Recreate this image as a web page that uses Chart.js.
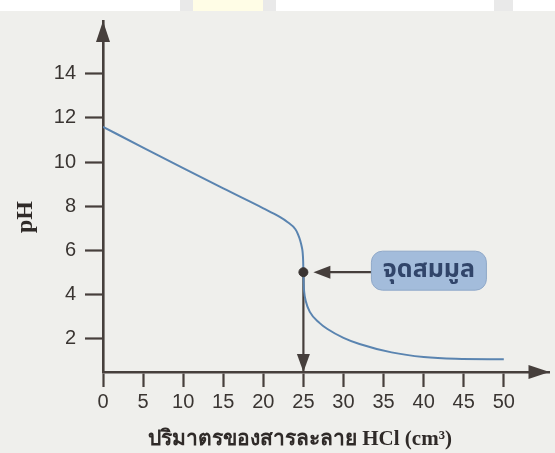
<!DOCTYPE html>
<html>
<head>
<meta charset="utf-8">
<script src="https://cdn.jsdelivr.net/npm/chart.js@4.4.1/dist/chart.umd.min.js"></script>
<style>
  html, body { margin: 0; padding: 0; background: #efefec; }
  #wrap { position: relative; width: 555px; height: 453px; overflow: hidden; }
  .band { position: absolute; top: 0; height: 11px; }
  canvas { position: absolute; left: 0; top: 0; }
</style>
</head>
<body>
<div id="wrap">
  <div class="band" style="left:0;width:555px;background:#ffffff;"></div>
  <div class="band" style="left:180px;width:13px;background:#e9e9e9;"></div>
  <div class="band" style="left:193px;width:70px;background:#fffde6;"></div>
  <div class="band" style="left:263px;width:13px;background:#e9e9e9;"></div>
  <div class="band" style="left:494px;width:19px;background:#e9e9e9;"></div>
  <canvas id="c" width="555" height="453"></canvas>
</div>
<script>
// ---- data ----
const volumes  = [0, 5, 10, 15, 20, 22, 23, 24, 24.3, 24.6, 24.8, 24.9, 24.97, 25, 25.03, 25.1, 25.3, 25.8, 27, 28, 30, 32, 36, 40, 44, 50];
const pHValues = [11.6, 10.65, 9.72, 8.8, 7.9, 7.52, 7.28, 6.95, 6.74, 6.44, 6.14, 5.92, 5.5, 5.0, 4.5, 4.1, 3.68, 3.2, 2.7, 2.42, 2.02, 1.74, 1.36, 1.15, 1.07, 1.05];
const xTickValues = [0, 5, 10, 15, 20, 25, 30, 35, 40, 45, 50];
const yTickValues = [2, 4, 6, 8, 10, 12, 14];
const equivalenceVolume = 25;
const equivalencePH = 5;
const equivalenceLabel = 'จุดสมมูล';
const xTitle = 'ปริมาตรของสารละลาย HCl (cm³)';
const yTitle = 'pH';

const X_MIN = 0, X_MAX = 55.7, Y_MIN = 0.47, Y_MAX = 16.4;
const AXIS = '#463f3c';
const LINE = '#5a84b0';

const curve = volumes.map((v, i) => ({ x: v, y: pHValues[i] }));

const decor = {
  id: 'decor',
  afterDatasetsDraw(chart) {
    const { ctx, chartArea: a, scales: { x, y } } = chart;
    ctx.save();
    ctx.fillStyle = AXIS;
    ctx.strokeStyle = AXIS;
    // y-axis arrowhead
    ctx.beginPath();
    ctx.moveTo(a.left, a.top);
    ctx.lineTo(a.left - 7, a.top + 21);
    ctx.lineTo(a.left + 7, a.top + 21);
    ctx.closePath(); ctx.fill();
    // x-axis arrowhead
    ctx.beginPath();
    ctx.moveTo(a.right, a.bottom);
    ctx.lineTo(a.right - 21, a.bottom - 7);
    ctx.lineTo(a.right - 21, a.bottom + 7);
    ctx.closePath(); ctx.fill();
    // equivalence point geometry
    const px = x.getPixelForValue(equivalenceVolume);
    const py = y.getPixelForValue(equivalencePH);
    // downward arrowhead at x-axis
    ctx.beginPath();
    ctx.moveTo(px, a.bottom);
    ctx.lineTo(px - 6.5, a.bottom - 18);
    ctx.lineTo(px + 6.5, a.bottom - 18);
    ctx.closePath(); ctx.fill();
    // arrow from label to point
    ctx.lineWidth = 2.2;
    ctx.beginPath();
    ctx.moveTo(px + 24, py);
    ctx.lineTo(px + 68, py);
    ctx.stroke();
    ctx.beginPath();
    ctx.moveTo(px + 10, py);
    ctx.lineTo(px + 27, py - 6.5);
    ctx.lineTo(px + 27, py + 6.5);
    ctx.closePath(); ctx.fill();
    // label box
    const bx = px + 68, by = py - 21, bw = 115, bh = 39;
    ctx.beginPath();
    ctx.roundRect(bx, by, bw, bh, 11);
    ctx.fillStyle = '#a3bcdb';
    ctx.fill();
    ctx.lineWidth = 1;
    ctx.strokeStyle = '#8fa8c8';
    ctx.stroke();
    ctx.fillStyle = '#31456a';
    ctx.font = 'bold 25px "Noto Sans Thai", "Noto Sans", "DejaVu Sans", sans-serif';
    ctx.textAlign = 'center';
    ctx.textBaseline = 'middle';
    ctx.fillText(equivalenceLabel, bx + bw / 2, by + bh / 2 + 1);
    // axis titles
    ctx.fillStyle = '#2f2a28';
    ctx.font = 'bold 21px "Liberation Serif", "DejaVu Serif", serif';
    ctx.textAlign = 'center';
    ctx.textBaseline = 'alphabetic';
    ctx.fillText(xTitle, 300, 445);
    ctx.save();
    ctx.translate(32, 217);
    ctx.rotate(-Math.PI / 2);
    ctx.font = 'bold 24px "Liberation Serif", "DejaVu Serif", serif';
    ctx.fillText(yTitle, 0, 0);
    ctx.restore();
    ctx.restore();
  }
};

new Chart(document.getElementById('c'), {
  type: 'line',
  data: {
    datasets: [
      {
        label: 'equivalence point',
        data: [{ x: equivalenceVolume, y: equivalencePH }],
        showLine: false,
        pointRadius: 4.5,
        pointBackgroundColor: '#3a3432',
        pointBorderColor: '#3a3432',
        order: 0
      },
      {
        label: 'pH',
        data: curve,
        borderColor: LINE,
        borderWidth: 2,
        pointRadius: 0,
        fill: false,
        cubicInterpolationMode: 'monotone',
        order: 1
      },
      {
        label: 'guide',
        data: [{ x: equivalenceVolume, y: equivalencePH }, { x: equivalenceVolume, y: Y_MIN }],
        borderColor: AXIS,
        borderWidth: 2.2,
        pointRadius: 0,
        fill: false,
        order: 2
      }
    ]
  },
  options: {
    responsive: false,
    animation: false,
    devicePixelRatio: 1,
    layout: { padding: { top: 16, right: 2, left: 0, bottom: 0 } },
    plugins: { legend: { display: false }, tooltip: { enabled: false } },
    scales: {
      x: {
        type: 'linear',
        min: X_MIN, max: X_MAX,
        afterBuildTicks: s => { s.ticks = xTickValues.map(v => ({ value: v })); },
        afterFit: s => { s.height = 81; },
        border: { display: true, color: AXIS, width: 2.6 },
        grid: { display: true, drawOnChartArea: false, drawTicks: true, tickLength: 15, tickWidth: 2.2, tickColor: AXIS },
        ticks: { color: '#3a3532', padding: 3, maxRotation: 0, autoSkip: false,
                 font: { family: '"Liberation Sans", Arial, sans-serif', size: 20 } }
      },
      y: {
        type: 'linear',
        min: Y_MIN, max: Y_MAX,
        afterBuildTicks: s => { s.ticks = yTickValues.map(v => ({ value: v })); },
        afterFit: s => { s.width = 103; },
        border: { display: true, color: AXIS, width: 2.6 },
        grid: { display: true, drawOnChartArea: false, drawTicks: true, tickLength: 18, tickWidth: 2.2, tickColor: AXIS },
        ticks: { color: '#3a3532', padding: 9, autoSkip: false,
                 font: { family: '"Liberation Sans", Arial, sans-serif', size: 20 } }
      }
    }
  },
  plugins: [decor]
});
</script>
</body>
</html>
